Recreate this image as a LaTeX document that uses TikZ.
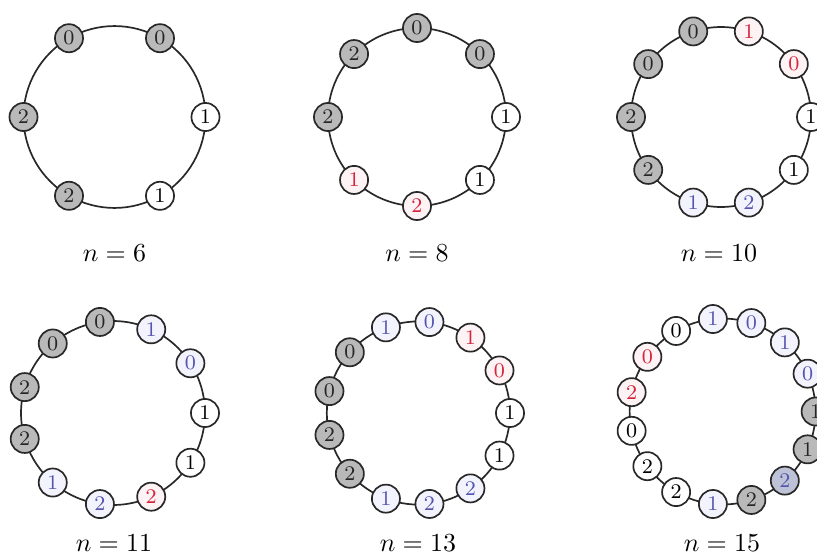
\documentclass[tikz,border=0pt]{standalone}
\usetikzlibrary{calc,backgrounds}
\definecolor{vgrayfill}{RGB}{185,185,185}
\definecolor{vgbfill}{RGB}{190,194,214}
\definecolor{vredtext}{RGB}{215,35,60}
\definecolor{vbluetext}{RGB}{85,85,175}
\definecolor{vredfill}{RGB}{253,243,245}
\definecolor{vbluefill}{RGB}{243,243,253}
\definecolor{vline}{RGB}{40,40,40}
\tikzset{
  vtx/.style={circle, draw=vline, line width=0.65pt, minimum size=10.8pt, inner sep=0pt, font=\footnotesize, fill=white},
  vgray/.style={fill=vgrayfill, text=black!85},
  vwhite/.style={fill=white, text=black},
  vred/.style={fill=vredfill, text=vredtext},
  vblue/.style={fill=vbluefill, text=vbluetext},
  vgblue/.style={fill=vgbfill, text=vbluetext},
  cedge/.style={draw=vline, line width=0.65pt},
  caption/.style={font=\normalsize}
}
\newcommand\drawcyc[6]{%
  \foreach \s/\t [count=\k from 0] in {#6} {
    \node[vtx,\s] (#1\k) at ($(#2,#3)+({\k*360/#5}:#4)$) {\t};
  }
  \pgfmathtruncatemacro\mylast{#5-1}
  \pgfmathsetmacro\mybang{180/#5}
  \pgfmathsetmacro\myloose{(4/3)*tan(90/#5)/(0.783*sin(180/#5))}
  \begin{pgfonlayer}{background}
  \foreach \k in {0,...,\mylast} {
    \pgfmathtruncatemacro\myj{mod(\k+1,#5)}
    \draw[cedge] (#1\k.center) to[bend right=\mybang, looseness=\myloose] (#1\myj.center);
  }
  \end{pgfonlayer}
}
\begin{document}
\begin{tikzpicture}[x=0.3846pt, y=0.3846pt]
\useasboundingbox (0,0) rectangle (817,559);
\drawcyc{a}{114.5}{442}{91}{6}{vwhite/1, vgray/0, vgray/0, vgray/2, vgray/2, vwhite/1}
\drawcyc{b}{417}{442}{89}{8}{vwhite/1, vgray/0, vgray/0, vgray/2, vgray/2, vred/1, vred/2, vwhite/1}
\drawcyc{c}{721}{442}{90}{10}{vwhite/1, vred/0, vred/1, vgray/0, vgray/0, vgray/2, vgray/2, vblue/1, vblue/2, vwhite/1}
\drawcyc{d}{113}{146}{92}{11}{vwhite/1, vblue/0, vblue/1, vgray/0, vgray/0, vgray/2, vgray/2, vblue/1, vblue/2, vred/2, vwhite/1}
\drawcyc{e}{418.4}{146}{91.6}{13}{vwhite/1, vred/0, vred/1, vblue/0, vblue/1, vgray/0, vgray/0, vgray/2, vgray/2, vblue/1, vblue/2, vblue/2, vwhite/1}
\drawcyc{f}{722.6}{147.5}{93}{15}{vgray/1, vblue/0, vblue/1, vblue/0, vblue/1, vwhite/0, vred/0, vred/2, vwhite/0, vwhite/2, vwhite/2, vblue/1, vgray/2, vgblue/2, vgray/1}
\node[caption] (la) at (114.5,306) {$n=6$};
\node[caption] (lb) at (417,306) {$n=8$};
\node[caption] (lc) at (719,306) {$n=10$};
\node[caption] (ld) at (114,16) {$n=11$};
\node[caption] (le) at (418,16) {$n=13$};
\node[caption] (lf) at (722,16) {$n=15$};
\end{tikzpicture}
\end{document}
